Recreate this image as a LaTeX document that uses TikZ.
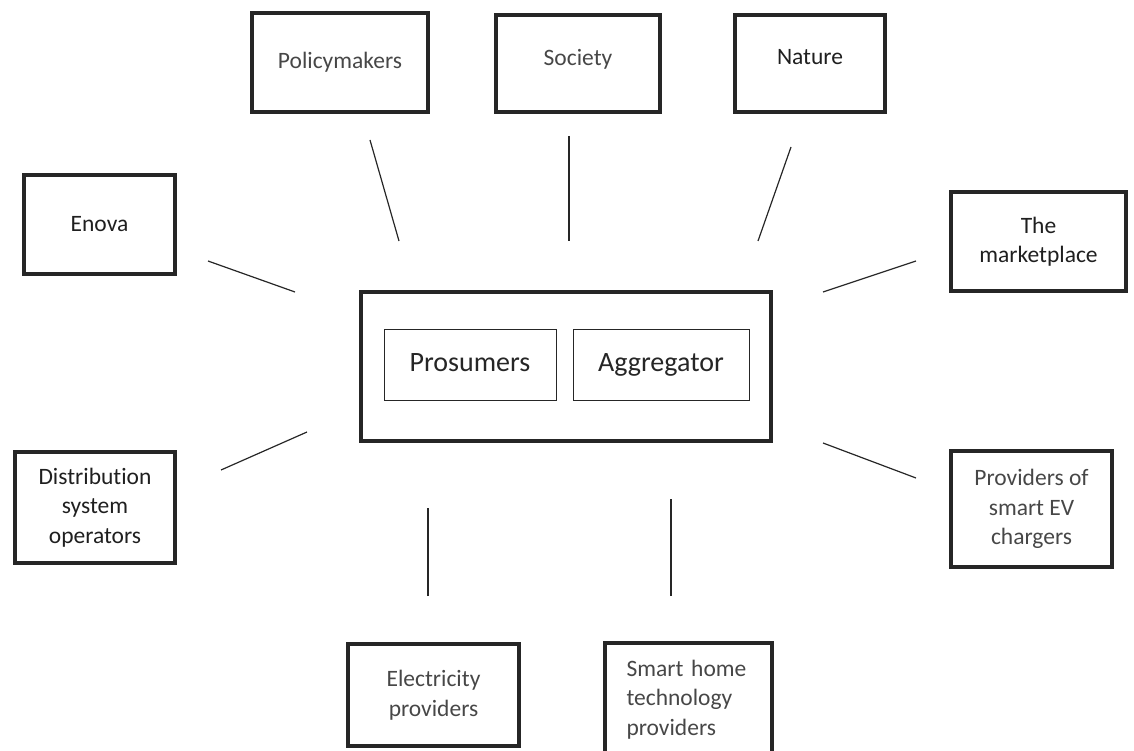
\documentclass[tikz,border=0pt]{standalone}
\usepackage{fontspec}
\setmainfont{Carlito}[Ligatures=NoCommon]
\usepackage{tikz}
\usetikzlibrary{positioning}

\begin{document}
\begin{tikzpicture}[
      x=1pt, y=-1pt,
      actor/.style={draw=black!85, line width=4pt, rectangle, align=center,
        font=\fontsize{23.5}{29.5}\selectfont, inner sep=0pt},
      light_txt/.style={text=black!72},
      dark_txt/.style={text=black!88},
      inner_box/.style={draw=black!85, line width=1pt, rectangle, inner sep=0pt,
        minimum width=172pt, minimum height=71pt, text height=20pt, text depth=6pt,
        font=\fontsize{28}{34}\selectfont, text=black!85},
      link/.style={draw=black!85, line width=1.2pt}
  ]

  % 1. Cornice
  \useasboundingbox (0,0) rectangle (1134,751);

  % 2. Riquadro centrale
  \node[actor, minimum width=410pt, minimum height=149pt] (core) at (566,366.5) {};
  \node[inner_box] (prosumers) at (470,364.5) {Prosumers};
  \node[inner_box, minimum width=176pt] (aggregator) at (661,364.5) {Aggregator};

  % 3. Attori esterni
  \node[actor, light_txt, minimum width=176pt, minimum height=99pt] (policy) at (340,62.5) {Policymakers};
  \node[actor, light_txt, minimum width=164pt, minimum height=97pt, text depth=13pt] (society) at (578,63.5) {Society};
  \node[actor, dark_txt, minimum width=150pt, minimum height=97pt, text depth=13pt] (nature) at (810,63.5) {Nature};
  \node[actor, dark_txt, minimum width=151pt, minimum height=99pt] (enova) at (99.5,224.5) {Enova};
  \node[actor, dark_txt, minimum width=175pt, minimum height=99pt] (market) at (1038.5,241.5) {The\\marketplace};
  \node[actor, dark_txt, minimum width=160pt, minimum height=111pt] (dso) at (95,507.5) {Distribution\\system\\operators};
  \node[actor, light_txt, minimum width=161pt, minimum height=116pt] (evcharge) at (1031.5,509) {Providers of\\smart EV\\chargers};
  \node[actor, light_txt, minimum width=171pt, minimum height=102pt] (elprov) at (433.5,695) {Electricity\\providers};
  % riquadro tagliato dal bordo inferiore
  \node[actor, minimum width=167pt, minimum height=128pt] (smarthome) at (688.5,707) {};
  \node[actor, light_txt, draw=none, text width=124pt, align=left] (smarthome_txt) at (688.5,699.5) {Smart home\\technology\\providers};

  % 4. Estremi dei collegamenti
  \coordinate (policy_a) at (370,140);   \coordinate (policy_b) at (399,241);
  \coordinate (society_a) at (569,136);  \coordinate (society_b) at (569,241);
  \coordinate (nature_a) at (791,147);   \coordinate (nature_b) at (758,241);
  \coordinate (enova_a) at (208,261);    \coordinate (enova_b) at (295,292);
  \coordinate (market_a) at (916,261);   \coordinate (market_b) at (823,292);
  \coordinate (dso_a) at (221,470);      \coordinate (dso_b) at (307,432);
  \coordinate (ev_a) at (916,478);       \coordinate (ev_b) at (823,443);
  \coordinate (el_a) at (428,596);       \coordinate (el_b) at (428,508);
  \coordinate (sh_a) at (671,596);       \coordinate (sh_b) at (671,499);

  % 5. Collegamenti
  \foreach \n in {policy, society, nature, enova, market, dso, ev, el, sh}
    \draw[link] (\n_a) -- (\n_b);

\end{tikzpicture}
\end{document}
